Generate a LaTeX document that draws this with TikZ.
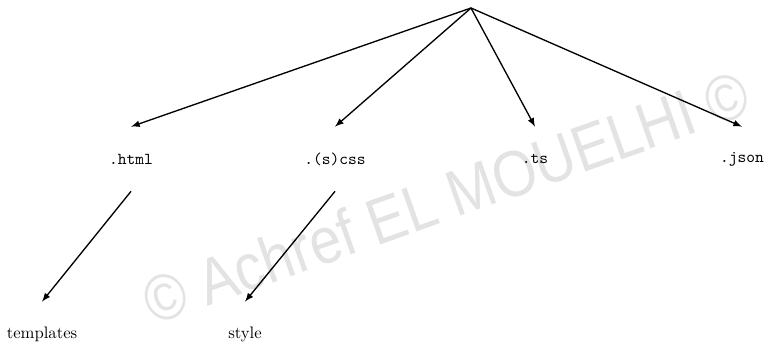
\documentclass[tikz,border=0pt]{standalone}
\usepackage{fontspec}
\usepackage{tikz}
\usetikzlibrary{calc}
\newfontfamily\markfont{Liberation Sans}
\newcommand{\ext}[1]{\texttt{#1}}

\begin{document}
\begin{tikzpicture}[x=0.6pt, y=-0.6pt, >=latex]
            \pgfmathsetmacro{\rowone}{159} % y of the extensions
            \pgfmathsetmacro{\rowtwo}{334} % y of the folders
            \tikzset{leaf/.style = {minimum height = 38.4pt, inner sep = 0pt}}

            \useasboundingbox (0, 0) rectangle (768, 349);

            % watermark
            \node [rotate = 19.5, text = black!11, font = \markfont\fontsize{34}{40}\selectfont]
                (mark) at (446, 197) {\scalebox{1}[1.15]{\textcopyright\ Achref EL MOUELHI \textcopyright}};

            \coordinate (root) at (471, 8);

            \node [leaf] (html) at (131, \rowone) {\ext{.html}};
            \node [leaf] (css) at (335, \rowone) {\ext{.(s)css}};
            \node [leaf] (ts) at (535, \rowone) {\ext{.ts}};
            \node [leaf] (json) at (742, \rowone) {\ext{.json}};

            \node [leaf] (templates) at (42, \rowtwo) {templates};
            \node [leaf] (style) at (245, \rowtwo) {style};

            \draw [->, thick] (root) -- (html.north);
            \draw [->, thick] (root) -- (css.north);
            \draw [->, thick] (root) -- (ts.north);
            \draw [->, thick] (root) -- (json.north);

            \draw [->, thick] (html.south) -- (templates.north);
            \draw [->, thick] (css.south) -- (style.north);
        \end{tikzpicture}
\end{document}
